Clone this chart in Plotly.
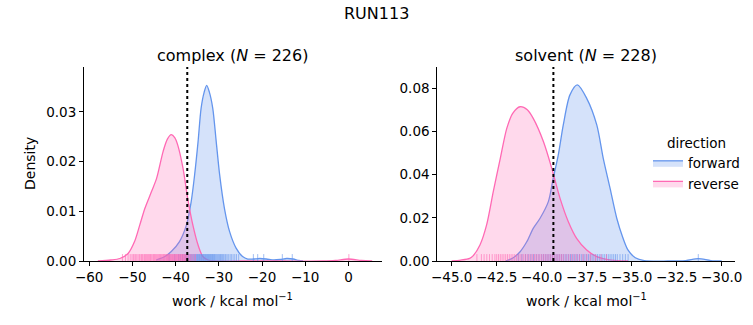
import plotly.graph_objects as go

# ---------------- data ----------------
title_text = "RUN113"
panel_titles = ["complex (<i>N</i> = 226)", "solvent (<i>N</i> = 228)"]
x_label = "work / kcal mol<sup>−1</sup>"
y_label = "Density"
directions = ["forward", "reverse"]

# complex panel: KDE curves (x, density)
cx_forward = [-44.5, -42.5, -41.0, -39.1, -37.5, -36.4, -35.6, -34.8, -34.1, -33.4, -32.8,
              -32.2, -31.4, -30.6, -29.8, -28.7, -27.5, -26.0, -24.5, -23.3, -22.0, -20.5,
              -19.0, -17.3, -15.8, -14.3, -12.8, -11.5, -10.5]
cy_forward = [0.0002, 0.0009, 0.0019, 0.0039, 0.0072, 0.0119, 0.0173, 0.0240, 0.0307, 0.0339,
              0.0353, 0.0340, 0.0307, 0.0240, 0.0173, 0.0106, 0.0059, 0.0026, 0.0009, 0.0004,
              0.0004, 0.0005, 0.0004, 0.0002, 0.0003, 0.0005, 0.0004, 0.0001, 0.0]
cx_reverse = [-58.0, -55.0, -52.9, -51.0, -49.5, -48.3, -47.1, -45.6, -44.4, -42.9, -41.9,
              -41.0, -40.2, -39.5, -38.3, -37.2, -36.0, -34.8, -33.7, -32.5, -31.0, -25.0,
              -15.0, -6.0, -3.0, 0.0, 3.0, 5.5]
cy_reverse = [0.0, 0.0002, 0.0005, 0.0015, 0.0039, 0.0072, 0.0106, 0.0139, 0.0166, 0.0220,
              0.0245, 0.0254, 0.0248, 0.0233, 0.0187, 0.0126, 0.0072, 0.0032, 0.0009, 0.0002,
              0.0, 0.0, 0.0, 0.0, 0.0001, 0.0004, 0.0001, 0.0]

# solvent panel: KDE curves
sx_forward = [-42.0, -41.58, -41.2, -40.83, -40.47, -40.09, -39.63, -39.36, -39.08, -38.8,
              -38.43, -38.02, -37.5, -36.94, -36.58, -36.2, -35.83, -35.5, -35.2, -34.8,
              -34.3, -33.0, -32.0, -31.3, -30.6, -30.0]
sy_forward = [0.0, 0.0015, 0.0043, 0.0089, 0.0151, 0.0198, 0.0275, 0.0383, 0.0490, 0.0630,
              0.0769, 0.0815, 0.0753, 0.0630, 0.0475, 0.0336, 0.0198, 0.0110, 0.0050, 0.0015,
              0.0002, 0.0, 0.0002, 0.0011, 0.0002, 0.0]
sx_reverse = [-45.0, -44.5, -44.0, -43.8, -43.43, -43.06, -42.69, -42.3, -41.94, -41.6, -41.2,
              -40.8, -40.47, -39.9, -39.44, -38.98, -38.52, -38.06, -37.5, -36.94, -36.4,
              -35.8, -35.2]
sy_reverse = [0.0, 0.0004, 0.0012, 0.0025, 0.0074, 0.0167, 0.0321, 0.0475, 0.0614, 0.0685,
              0.0714, 0.0700, 0.0660, 0.0552, 0.0429, 0.0290, 0.0182, 0.0105, 0.0051, 0.0020,
              0.0008, 0.0002, 0.0]

# rug samples (individual work values)
c_rug_forward = [-41.5, -40.2, -39.3, -38.9, -38.4, -38.0, -37.7, -37.4, -37.1, -36.9, -36.6,
                 -36.4, -36.2, -36.0, -35.8, -35.6, -35.4, -35.2, -35.05, -34.9, -34.75, -34.6,
                 -34.45, -34.3, -34.15, -34.0, -33.85, -33.7, -33.55, -33.4, -33.25, -33.1,
                 -32.95, -32.8, -32.65, -32.5, -32.35, -32.2, -32.05, -31.9, -31.75, -31.6,
                 -31.45, -31.3, -31.15, -31.0, -30.8, -30.6, -30.4, -30.2, -30.0, -29.8, -29.6,
                 -29.4, -29.15, -28.9, -28.6, -28.4, -28.1, -27.8, -27.4, -27.1, -26.7, -26.3,
                 -25.9, -25.4, -22.0, -21.0, -19.6, -15.3, -13.0]
c_rug_reverse = [-52.3, -51.6, -51.0, -50.5, -50.1, -49.8, -49.6, -49.3, -49.0, -48.7, -48.4,
                 -48.2, -47.9, -47.7, -47.5, -47.2, -47.0, -46.8, -46.6, -46.4, -46.2, -46.0,
                 -45.8, -45.6, -45.3, -45.1, -44.9, -44.7, -44.5, -44.3, -44.1, -43.9, -43.7,
                 -43.5, -43.3, -43.1, -42.9, -42.75, -42.6, -42.4, -42.2, -42.05, -41.9,
                 -41.75, -41.6, -41.45, -41.3, -41.15, -41.0, -40.85, -40.7, -40.55, -40.4,
                 -40.25, -40.1, -39.95, -39.8, -39.65, -39.5, -39.35, -39.2, -39.05, -38.9,
                 -38.75, -38.6, -38.45, -38.3, -38.15, -38.0, -37.85, -37.7, -37.5, -37.3,
                 -37.1, -36.8, -36.5, -36.2, -35.8, -35.4, 0.1]
s_rug_forward = [-41.3, -41.1, -40.9, -40.75, -40.6, -40.45, -40.3, -40.15, -40.0, -39.9,
                 -39.8, -39.7, -39.6, -39.5, -39.4, -39.3, -39.2, -39.1, -39.0, -38.9, -38.8,
                 -38.7, -38.6, -38.5, -38.4, -38.3, -38.2, -38.1, -38.0, -37.9, -37.8, -37.7,
                 -37.6, -37.5, -37.4, -37.3, -37.2, -37.1, -37.0, -36.9, -36.8, -36.7, -36.6,
                 -36.5, -36.4, -36.3, -36.2, -36.1, -36.0, -35.9, -35.8, -35.65, -35.5, -35.35,
                 -35.2, -31.3]
s_rug_reverse = [-43.6, -43.35, -43.2, -43.05, -42.9, -42.75, -42.6, -42.5, -42.4, -42.3,
                 -42.2, -42.1, -42.0, -41.9, -41.8, -41.7, -41.6, -41.5, -41.4, -41.3, -41.2,
                 -41.1, -41.0, -40.9, -40.8, -40.7, -40.6, -40.5, -40.4, -40.3, -40.2, -40.1,
                 -40.0, -39.9, -39.8, -39.7, -39.6, -39.5, -39.4, -39.3, -39.2, -39.1, -39.0,
                 -38.9, -38.8, -38.65, -38.5, -38.35, -38.2, -38.05, -37.9, -37.7, -37.5,
                 -37.3, -37.0, -36.7, -36.4]

# dotted reference lines
complex_line = -37.3
solvent_line = -39.35

# axes ticks
c_xticks = [-60, -50, -40, -30, -20, -10, 0]
c_xticktext = ["−60", "−50", "−40", "−30", "−20", "−10", "0"]
c_yticks = [0.0, 0.01, 0.02, 0.03]
c_yticktext = ["0.00", "0.01", "0.02", "0.03"]
s_xticks = [-45.0, -42.5, -40.0, -37.5, -35.0, -32.5, -30.0]
s_xticktext = ["−45.0", "−42.5", "−40.0", "−37.5", "−35.0", "−32.5", "−30.0"]
s_yticks = [0.0, 0.02, 0.04, 0.06, 0.08]
s_yticktext = ["0.00", "0.02", "0.04", "0.06", "0.08"]

# ---------------- styling ----------------
W, H = 753, 325
FONT = "DejaVu Sans"
BLUE = "#6495ED"
PINK = "#FF69B4"
BLUE_FILL = "rgba(100,149,237,0.27)"
PINK_FILL = "rgba(255,105,180,0.25)"
BLUE_RUG = "rgba(100,149,237,0.6)"
PINK_RUG = "rgba(255,105,180,0.6)"
TICK_SIZE = 13.5
LABEL_SIZE = 14
LEGEND_SIZE = 13.5
TITLE_SIZE = 16


def px(xp):
    return xp / W


def py(yp):
    return 1 - yp / H


c_xrange = [-61.2, 7.7]
c_yrange = [0, 0.039]
s_xrange = [-45.8, -29.26]
s_yrange = [0, 0.0898]
rug_frac = 0.014  # centre of rug ticks as fraction of y-range

fig = go.Figure()


def add_kde(x, y, color, fill, name, xa, ya, show):
    fig.add_trace(go.Scatter(
        x=x, y=y, mode="lines", name=name, legendgroup=name, showlegend=show,
        line=dict(color=color, width=1.3, shape="spline", smoothing=0.8),
        fill="tozeroy", fillcolor=fill, xaxis=xa, yaxis=ya, hoverinfo="skip"))


def add_rug(vals, color, yr, xa, ya):
    fig.add_trace(go.Scatter(
        x=vals, y=[yr[1] * rug_frac] * len(vals), mode="markers", showlegend=False,
        marker=dict(symbol="line-ns", size=6, line=dict(width=1, color=color)),
        xaxis=xa, yaxis=ya, hoverinfo="skip"))


add_kde(cx_forward, cy_forward, BLUE, BLUE_FILL, directions[0], "x", "y", False)
add_kde(cx_reverse, cy_reverse, PINK, PINK_FILL, directions[1], "x", "y", False)
add_rug(c_rug_forward, BLUE_RUG, c_yrange, "x", "y")
add_rug(c_rug_reverse, PINK_RUG, c_yrange, "x", "y")

add_kde(sx_forward, sy_forward, BLUE, BLUE_FILL, directions[0], "x2", "y2", True)
add_kde(sx_reverse, sy_reverse, PINK, PINK_FILL, directions[1], "x2", "y2", True)
add_rug(s_rug_forward, BLUE_RUG, s_yrange, "x2", "y2")
add_rug(s_rug_reverse, PINK_RUG, s_yrange, "x2", "y2")

# dotted lines
fig.add_trace(go.Scatter(x=[complex_line, complex_line], y=c_yrange, mode="lines",
                         line=dict(color="black", width=2, dash="dot"), showlegend=False,
                         xaxis="x", yaxis="y", hoverinfo="skip"))
fig.add_trace(go.Scatter(x=[solvent_line, solvent_line], y=s_yrange, mode="lines",
                         line=dict(color="black", width=2, dash="dot"), showlegend=False,
                         xaxis="x2", yaxis="y2", hoverinfo="skip"))

axis_common = dict(showgrid=False, zeroline=False, showline=True, linecolor="black",
                   linewidth=1, ticks="outside", ticklen=4, tickwidth=1, tickcolor="black",
                   tickfont=dict(family=FONT, size=TICK_SIZE, color="black"), automargin=False)

ydom = [py(261), py(67)]
fig.update_layout(
    width=W, height=H, margin=dict(l=0, r=0, t=0, b=0),
    paper_bgcolor="white", plot_bgcolor="white",
    font=dict(family=FONT, color="black", size=TICK_SIZE),
    xaxis=dict(domain=[px(84), px(381.7)], range=c_xrange, tickvals=c_xticks,
               ticktext=c_xticktext, anchor="y", **axis_common),
    yaxis=dict(domain=ydom, range=c_yrange, tickvals=c_yticks, ticktext=c_yticktext,
               anchor="x", **axis_common),
    xaxis2=dict(domain=[px(437.3), px(735)], range=s_xrange, tickvals=s_xticks,
                ticktext=s_xticktext, anchor="y2", **axis_common),
    yaxis2=dict(domain=ydom, range=s_yrange, tickvals=s_yticks, ticktext=s_yticktext,
                anchor="x2", **axis_common),
    legend=dict(x=px(648), y=py(130), xanchor="left", yanchor="top",
                bgcolor="rgba(0,0,0,0)", font=dict(family=FONT, size=LEGEND_SIZE, color="black"),
                title=dict(text="direction", side="top center",
                           font=dict(family=FONT, size=LEGEND_SIZE, color="black")),
                itemwidth=30, tracegroupgap=0),
    showlegend=True,
)

annos = [
    dict(text=title_text, x=0.5, y=py(13), size=TITLE_SIZE),
    dict(text=panel_titles[0], x=px(232.9), y=py(55), size=TITLE_SIZE),
    dict(text=panel_titles[1], x=px(586.2), y=py(55), size=TITLE_SIZE),
    dict(text=x_label, x=px(232.9), y=py(300), size=LABEL_SIZE),
    dict(text=x_label, x=px(586.2), y=py(300), size=LABEL_SIZE),
]
for a in annos:
    fig.add_annotation(text=a["text"], x=a["x"], y=a["y"], xref="paper", yref="paper",
                       xanchor="center", yanchor="middle", showarrow=False,
                       font=dict(family=FONT, size=a["size"], color="black"))
fig.add_annotation(text=y_label, x=px(30), y=py(164), xref="paper", yref="paper",
                   xanchor="center", yanchor="middle", showarrow=False, textangle=-90,
                   font=dict(family=FONT, size=LABEL_SIZE, color="black"))

fig.write_html("out.html")
